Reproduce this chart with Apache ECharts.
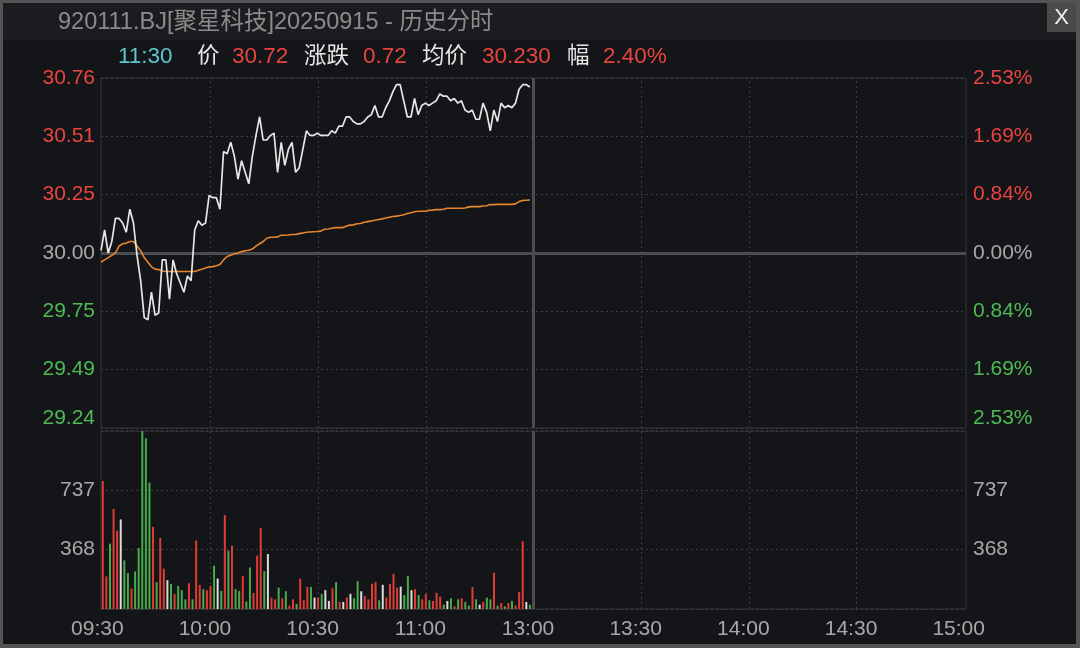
<!DOCTYPE html>
<html><head><meta charset="utf-8">
<script src="https://cdn.jsdelivr.net/npm/echarts@6/dist/echarts.min.js"></script>
<style>html,body{margin:0;padding:0;background:#141518;}#c{width:1080px;height:648px;}</style>
</head><body><div id="c"></div>
<script>
const titleText = '920111.BJ[聚星科技]20250915 - 历史分时';
const prevClose = 30.00;
const priceMin = 29.241, priceMax = 30.759, priceStep = 0.253;
const volMax = 1105.5, volStep = 368.5;
const timeTicks = ['09:30','10:00','10:30','11:00','13:00','13:30','14:00','14:30','15:00'];
const infoItems = [
  ['11:30','cyan',118],['价','white',197],['30.72','red',232],['涨跌','white',304],
  ['0.72','red',363],['均价','white',422],['30.230','red',482],['幅','white',567],['2.40%','red',603]
];
const prices = [
  30.01,30.10,30.00,30.05,30.15,30.15,30.13,30.09,30.19,30.13,
  29.99,29.88,29.72,29.71,29.83,29.73,29.74,29.97,29.97,29.80,
  29.97,29.91,29.87,29.83,29.90,29.88,30.10,30.14,30.12,30.13,
  30.25,30.24,30.24,30.19,30.44,30.43,30.48,30.42,30.32,30.40,
  30.35,30.30,30.42,30.51,30.59,30.49,30.49,30.51,30.52,30.35,
  30.48,30.38,30.45,30.48,30.35,30.37,30.45,30.53,30.51,30.51,
  30.52,30.51,30.51,30.51,30.53,30.52,30.55,30.55,30.59,30.59,
  30.57,30.56,30.56,30.57,30.59,30.60,30.64,30.59,30.59,30.63,
  30.66,30.70,30.73,30.73,30.66,30.59,30.59,30.67,30.60,30.64,
  30.65,30.64,30.65,30.66,30.69,30.68,30.68,30.66,30.67,30.65,
  30.66,30.62,30.61,30.62,30.58,30.58,30.65,30.61,30.53,30.62,
  30.57,30.65,30.63,30.64,30.63,30.65,30.71,30.73,30.73,30.72
];
const avgPrices = [
  29.960,29.970,29.980,29.990,30.000,30.030,30.040,30.043,30.050,30.050,
  30.030,30.010,29.980,29.960,29.940,29.930,29.928,29.922,29.920,29.920,
  29.920,29.920,29.920,29.920,29.920,29.920,29.920,29.925,29.930,29.935,
  29.940,29.941,29.945,29.950,29.970,29.985,29.990,29.997,30.000,30.006,
  30.010,30.012,30.017,30.030,30.040,30.050,30.064,30.068,30.068,30.070,
  30.077,30.077,30.078,30.080,30.080,30.084,30.087,30.090,30.091,30.092,
  30.093,30.095,30.103,30.104,30.107,30.110,30.110,30.110,30.116,30.121,
  30.122,30.127,30.128,30.133,30.136,30.139,30.142,30.145,30.148,30.152,
  30.155,30.158,30.160,30.163,30.166,30.171,30.175,30.179,30.181,30.181,
  30.181,30.185,30.186,30.188,30.188,30.190,30.194,30.194,30.194,30.194,
  30.194,30.195,30.200,30.201,30.201,30.201,30.204,30.205,30.210,30.210,
  30.211,30.211,30.211,30.211,30.211,30.213,30.223,30.228,30.229,30.230
];
const volumes = [
  795,202,406,622,487,556,302,223,127,233,
  379,1105,1060,785,510,167,441,250,179,156,
  94,144,117,60,160,60,425,150,123,117,
  144,269,189,112,583,362,393,123,112,206,
  46,258,100,331,504,235,341,71,60,133,
  67,110,21,60,31,189,54,137,137,71,
  71,94,117,50,129,167,44,44,71,94,
  67,173,110,81,60,156,167,54,150,71,
  156,219,133,139,87,206,117,123,87,60,
  94,54,50,100,77,27,50,67,17,60,
  67,44,21,137,60,27,44,71,60,225,
  21,37,17,37,50,21,106,421,44,27
];
const volumeSide = [
  'r','r','g','r','r','w','g','g','r','g',
  'g','g','g','g','r','g','r','r','w','g',
  'r','g','g','g','r','g','r','r','g','r',
  'r','g','w','g','r','g','r','g','g','r',
  'g','g','r','r','r','g','w','r','r','g',
  'r','g','r','r','g','r','r','r','g','w',
  'r','g','w','w','r','g','r','w','r','w',
  'g','g','w','r','r','r','r','g','w','r',
  'r','r','r','w','g','g','w','r','g','r',
  'r','g','r','r','r','g','w','g','r','g',
  'r','g','g','r','g','w','r','g','g','r',
  'g','r','g','r','g','r','r','r','w','g'
];

function minuteLabels(h, m, count) {
  const out = [];
  for (let k = 0; k < count; k++) {
    const t = h * 60 + m + k;
    out.push(String(Math.floor(t / 60)).padStart(2, '0') + ':' + String(t % 60).padStart(2, '0'));
  }
  return out;
}
const categories = minuteLabels(9, 30, 120).concat(minuteLabels(13, 0, 121));

const FONT = '"Liberation Sans", Arial, "Noto Sans CJK SC", sans-serif';
const RED = '#e8453f', GREEN = '#4dbb55', GRAY = '#a8a8a8';
const TXT = {red: RED, white: '#e6e6e6', cyan: '#5cc6d0'};
const BAR = {r: '#e03c36', g: '#47ab4a', w: '#dcdcdc'};
const dotted = {color: '#3d3e42', width: 1, type: [2, 3]};

function priceColor(v) {
  v = parseFloat(v);
  if (v > prevClose + 1e-6) return RED;
  if (v < prevClose - 1e-6) return GREEN;
  return GRAY;
}
function isBottom(v) { return Math.abs(parseFloat(v) - priceMin) < 1e-6; }
function bottomRich(s, v) { return isBottom(v) ? '{lo|' + s + '}' : s; }
const richLo = {lo: {color: GREEN, fontSize: 21, fontFamily: FONT, padding: [0, 0, 19, 0]}};

const vLines = ['10:00','10:30','11:00','13:30','14:00','14:30'];
function gridMarks(withZero) {
  const data = vLines.map(c => ({xAxis: c, lineStyle: dotted}));
  data.push({xAxis: '13:00', lineStyle: {color: '#4b4c50', width: 3, type: 'solid'}});
  if (withZero) data.push({yAxis: prevClose, lineStyle: {color: '#4b4c50', width: 3, type: 'solid'}});
  return {silent: true, symbol: ['none', 'none'], label: {show: false}, z: 1, animation: false, data};
}

const graphics = [
  {type: 'rect', shape: {x: 3, y: 3, width: 1073, height: 37}, style: {fill: '#1b1c1f'}, z: -10},
  {type: 'rect', shape: {x: 0, y: 0, width: 1080, height: 3}, style: {fill: '#545454'}},
  {type: 'rect', shape: {x: 0, y: 0, width: 3, height: 648}, style: {fill: '#545454'}},
  {type: 'rect', shape: {x: 1076, y: 0, width: 4, height: 648}, style: {fill: '#545454'}},
  {type: 'rect', shape: {x: 0, y: 644, width: 1080, height: 4}, style: {fill: '#545454'}},
  {type: 'rect', shape: {x: 1047, y: 3, width: 29, height: 29}, style: {fill: '#4a4a4a'}},
  {type: 'text', x: 1061.5, y: 18, style: {text: 'X', fill: '#f0f0f0', fontSize: 22, fontFamily: FONT,
    align: 'center', verticalAlign: 'middle', textAlign: 'center', textVerticalAlign: 'middle'}},
  {type: 'text', x: 58, y: 23, style: {text: titleText, fill: '#8b8b8b', fontSize: 23.5, fontFamily: FONT,
    align: 'left', verticalAlign: 'middle', textAlign: 'left', textVerticalAlign: 'middle'}}
];
infoItems.forEach(([t, c, x]) => graphics.push({type: 'text', x: x, y: 57,
  style: {text: t, fill: TXT[c], fontSize: 22.5, fontFamily: FONT,
    align: 'left', verticalAlign: 'middle', textAlign: 'left', textVerticalAlign: 'middle'}}));

const axisCommon = {axisLine: {show: false}, axisTick: {show: false}};

const option = {
  backgroundColor: '#141518',
  animation: false,
  textStyle: {fontFamily: FONT},
  graphic: graphics,
  grid: [
    {left: 101, right: 114, top: 78, height: 350, show: true, borderColor: '#36373a', borderWidth: 1},
    {left: 101, right: 114, top: 431, height: 178, show: true, borderColor: '#36373a', borderWidth: 1}
  ],
  xAxis: [
    {type: 'category', gridIndex: 0, data: categories, boundaryGap: false, show: false},
    {type: 'category', gridIndex: 0, data: categories, boundaryGap: true, show: false},
    Object.assign({type: 'category', gridIndex: 1, data: categories, boundaryGap: true,
      splitLine: {show: false},
      axisLabel: {interval: (i, v) => timeTicks.indexOf(v) >= 0, color: GRAY, fontSize: 21, margin: 10,
        fontFamily: FONT, padding: [0, 11, 0, 0]}
    }, axisCommon)
  ],
  yAxis: [
    Object.assign({type: 'value', gridIndex: 0, position: 'left', min: priceMin, max: priceMax, interval: priceStep,
      splitLine: {show: true, lineStyle: dotted},
      axisLabel: {margin: 6, fontSize: 21, fontFamily: FONT, color: priceColor,
        formatter: v => bottomRich(Number(v).toFixed(2), v), rich: richLo}
    }, axisCommon),
    Object.assign({type: 'value', gridIndex: 0, position: 'right', min: priceMin, max: priceMax, interval: priceStep,
      splitLine: {show: false},
      axisLabel: {margin: 7, fontSize: 21, fontFamily: FONT, color: priceColor,
        formatter: v => bottomRich(Math.abs((v - prevClose) / prevClose * 100).toFixed(2) + '%', v), rich: richLo}
    }, axisCommon),
    Object.assign({type: 'value', gridIndex: 1, position: 'left', min: 0, max: volMax, interval: volStep,
      splitLine: {show: true, lineStyle: dotted},
      axisLabel: {margin: 6, fontSize: 21, fontFamily: FONT, color: GRAY,
        formatter: v => (v <= 0 || v >= volMax - 1e-6) ? '' : String(Math.floor(v))}
    }, axisCommon),
    Object.assign({type: 'value', gridIndex: 1, position: 'right', min: 0, max: volMax, interval: volStep,
      splitLine: {show: false},
      axisLabel: {margin: 7, fontSize: 21, fontFamily: FONT, color: GRAY,
        formatter: v => (v <= 0 || v >= volMax - 1e-6) ? '' : String(Math.floor(v))}
    }, axisCommon)
  ],
  series: [
    {type: 'line', name: 'grid', xAxisIndex: 1, yAxisIndex: 0, data: [], silent: true, z: 1, markLine: gridMarks(true)},
    {type: 'line', name: '均价', xAxisIndex: 0, yAxisIndex: 0, data: avgPrices, showSymbol: false, symbol: 'none',
      lineStyle: {color: '#e8862c', width: 1.6}, z: 3, silent: true},
    {type: 'line', name: '价', xAxisIndex: 0, yAxisIndex: 0, data: prices, showSymbol: false, symbol: 'none',
      lineStyle: {color: '#e6e6e6', width: 1.7}, z: 4, silent: true},
    {type: 'bar', name: '量', xAxisIndex: 2, yAxisIndex: 2, barWidth: 2, silent: true, z: 3,
      data: volumes.map((v, i) => ({value: v, itemStyle: {color: BAR[volumeSide[i]]}})),
      markLine: gridMarks(false)}
  ]
};
const chart = echarts.init(document.getElementById('c'), null, {renderer: 'canvas'});
chart.setOption(option);
</script>
</body></html>
